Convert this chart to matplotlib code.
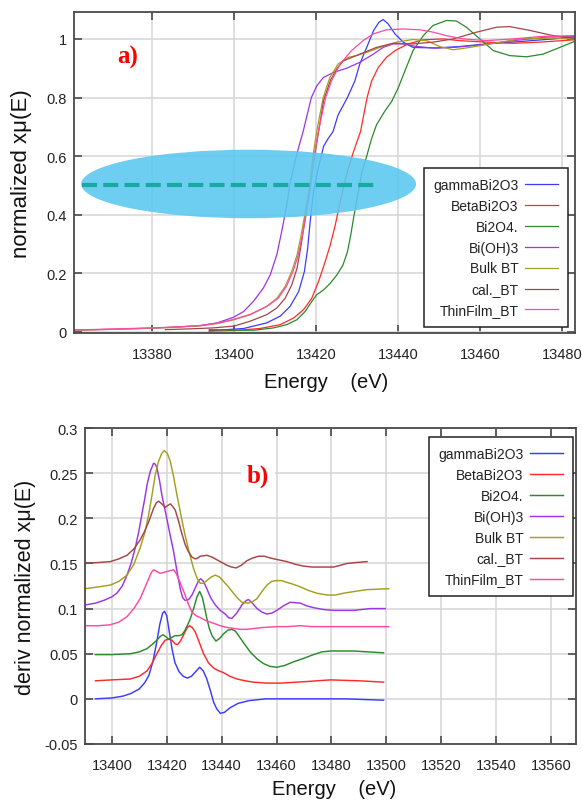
import numpy as np
import matplotlib
matplotlib.use("Agg")
import matplotlib.pyplot as plt
from matplotlib.patches import Ellipse
from matplotlib.ticker import FuncFormatter, MultipleLocator

labels = ["gammaBi2O3", "BetaBi2O3", "Bi2O4.", "Bi(OH)3", "Bulk BT", "cal._BT", "ThinFilm_BT"]
colors = ["#3b3bff", "#ff2a2a", "#2b8a2b", "#9b35e6", "#a3a020", "#a54545", "#ff4aa5"]

# ---- panel a) normalized XANES ----
e_gamma = [13394, 13402.4, 13408, 13411.3, 13413.7, 13415.8, 13417.2, 13418, 13418.6, 13419.4, 13420.7, 13421.9,
           13423, 13424.2, 13425.4, 13427.7, 13429.5, 13430.7, 13432.4, 13434.1, 13435.4, 13436.4, 13437.6,
           13439.3, 13441.3, 13443.7, 13449.4, 13455.1, 13461.6, 13469.8, 13477.9, 13483.2]
mu_gamma = [0.004, 0.012, 0.031, 0.054, 0.087, 0.138, 0.206, 0.285, 0.375, 0.476, 0.566, 0.634,
            0.66, 0.684, 0.74, 0.8, 0.856, 0.914, 0.971, 1.029, 1.057, 1.066, 1.052,
            1.017, 0.989, 0.971, 0.969, 0.974, 0.983, 0.991, 1.0, 1.008]

e_beta = [13394, 13400, 13406.4, 13411.3, 13414.6, 13417, 13419, 13420.65, 13422, 13423.5, 13424.7, 13425.9,
          13427.2, 13428.4, 13429.3, 13430.9, 13432.5, 13433.6, 13435.2, 13437.2, 13439.3, 13442.5, 13446.2,
          13451, 13455.1, 13461.6, 13468.1, 13474.6, 13483.2]
mu_beta = [0.003, 0.005, 0.012, 0.025, 0.048, 0.076, 0.115, 0.172, 0.228, 0.296, 0.363, 0.442,
           0.521, 0.58, 0.62, 0.684, 0.8, 0.856, 0.902, 0.937, 0.96, 0.983, 0.997,
           1.0, 0.994, 0.989, 0.985, 0.989, 0.997]

e_bi2o4 = [13394, 13400, 13405, 13409.7, 13412.9, 13415.4, 13417.4, 13419, 13420.2, 13421.9, 13423.5, 13425.1,
           13426.6, 13427.7, 13428.5, 13429.3, 13430.2, 13431.2, 13432.4, 13433.6, 13434.8, 13436.8, 13438.5,
           13440.1, 13441.7, 13443.7, 13446.2, 13448.6, 13451.9, 13454.3, 13456.7, 13460, 13463.3, 13467.3,
           13471.4, 13475.4, 13479.5, 13483.2]
mu_bi2o4 = [0.008, 0.006, 0.006, 0.014, 0.025, 0.042, 0.07, 0.104, 0.127, 0.144, 0.166, 0.194,
            0.228, 0.273, 0.33, 0.397, 0.465, 0.544, 0.6, 0.66, 0.707, 0.753, 0.787,
            0.833, 0.89, 0.96, 1.011, 1.046, 1.063, 1.061, 1.04, 1.0, 0.96, 0.943,
            0.939, 0.948, 0.971, 0.992]

e_bioh3 = [13361, 13370, 13380, 13386, 13391.8, 13395.9, 13399.9, 13402.4, 13404.8, 13407.2, 13408.9, 13410.5,
           13411.7, 13412.8, 13413.7, 13415, 13416.2, 13416.9, 13418.9, 13420.2, 13421.8, 13424.2, 13427.5,
           13430.7, 13434, 13436.4, 13438.9, 13441.3, 13444.6, 13448.6, 13453.5, 13460, 13468.1, 13476.3,
           13483.2]
mu_bioh3 = [0.006, 0.009, 0.013, 0.017, 0.022, 0.031, 0.05, 0.07, 0.105, 0.15, 0.196, 0.265,
            0.345, 0.425, 0.505, 0.589, 0.65, 0.684, 0.8, 0.839, 0.868, 0.885, 0.9,
            0.92, 0.948, 0.971, 0.983, 0.983, 0.974, 0.969, 0.971, 0.979, 0.994, 1.006,
            1.01]

e_bulk = [13361, 13370, 13380, 13386, 13391.8, 13396, 13400, 13404, 13408, 13410.5, 13412.5, 13414.1,
          13415.4, 13416.4, 13417.4, 13418.5, 13419.3, 13420.2, 13421.8, 13423.4, 13425.4, 13427.9, 13429.9,
          13432.4, 13435.6, 13439.7, 13443.7, 13447, 13450.2, 13453.5, 13457.6, 13463.3, 13469.8, 13477.9,
          13483.2]
mu_bulk = [0.006, 0.009, 0.013, 0.016, 0.021, 0.029, 0.042, 0.059, 0.087, 0.115, 0.155, 0.206,
           0.262, 0.33, 0.408, 0.499, 0.6, 0.684, 0.8, 0.868, 0.914, 0.937, 0.943,
           0.954, 0.971, 0.989, 0.998, 0.994, 0.974, 0.963, 0.971, 0.985, 1.0, 1.003,
           1.0]

e_cal = [13383.3, 13390, 13395, 13400, 13404, 13408, 13410.5, 13412.5, 13414.1, 13415.4, 13416.4, 13417.4,
         13418.5, 13419.4, 13420.4, 13421.9, 13423.6, 13425.2, 13426.7, 13430.7, 13434.8, 13438.9, 13443.7,
         13448.6, 13453.5, 13459.2, 13464.1, 13467.3, 13472.2, 13477.9, 13483.2]
mu_cal = [0.008, 0.011, 0.014, 0.02, 0.037, 0.059, 0.082, 0.115, 0.16, 0.217, 0.296, 0.386,
          0.487, 0.577, 0.66, 0.79, 0.86, 0.9, 0.925, 0.948, 0.971, 0.985, 0.983,
          0.989, 1.0, 1.023, 1.04, 1.042, 1.029, 1.011, 1.003]

e_thin = [13361, 13370, 13380, 13386, 13391.8, 13396, 13400, 13404, 13408, 13410.8, 13412.8, 13414.4,
          13415.7, 13416.7, 13417.7, 13418.8, 13419.6, 13420.6, 13422.4, 13423.8, 13425.9, 13428.7, 13431.5,
          13434, 13437.2, 13441.3, 13445.4, 13448.6, 13451.9, 13455.9, 13461.6, 13468.1, 13474.6, 13483.2]
mu_thin = [0.007, 0.01, 0.014, 0.017, 0.022, 0.03, 0.043, 0.06, 0.087, 0.115, 0.155, 0.206,
           0.262, 0.33, 0.408, 0.499, 0.6, 0.684, 0.8, 0.856, 0.914, 0.96, 0.994,
           1.017, 1.031, 1.034, 1.031, 1.023, 1.011, 1.0, 0.994, 1.0, 1.008, 1.011]

# ---- panel b) derivatives ----
d_e_gamma = [13394, 13400, 13404, 13407, 13410, 13412, 13413.5, 13415, 13416.3, 13417.5, 13418.5, 13419.2,
             13420, 13421, 13422, 13423, 13424.5, 13426, 13427.5, 13429, 13430.5, 13432, 13433.3, 13434.6,
             13436, 13437.1, 13438.2, 13439.5, 13441, 13443, 13446, 13450, 13456, 13470, 13485, 13499]
d_gamma = [0.0, 0.001, 0.003, 0.006, 0.011, 0.018, 0.026, 0.042, 0.062, 0.083, 0.095, 0.097,
           0.092, 0.073, 0.054, 0.04, 0.03, 0.025, 0.023, 0.025, 0.03, 0.035, 0.031, 0.022,
           0.008, -0.004, -0.011, -0.016, -0.015, -0.01, -0.005, -0.002, 0.0, 0.0, 0.0, -0.0015]

d_e_beta = [13394, 13400, 13406.7, 13410, 13412.8, 13414.6, 13416.4, 13418, 13419.4, 13420.7, 13421.9, 13423,
            13423.9, 13425, 13426.3, 13427.5, 13428.3, 13429.3, 13430.4, 13431.8, 13433.4, 13435.2, 13437.1,
            13439, 13440.7, 13443, 13445.6, 13448.5, 13451.6, 13456, 13461.4, 13470, 13479.6, 13490, 13499]
d_beta = [0.02, 0.021, 0.022, 0.025, 0.031, 0.039, 0.05, 0.059, 0.065, 0.066, 0.065, 0.061,
          0.06, 0.064, 0.072, 0.079, 0.081, 0.079, 0.074, 0.063, 0.05, 0.04, 0.034,
          0.031, 0.029, 0.025, 0.022, 0.02, 0.0185, 0.0175, 0.0174, 0.019, 0.021, 0.02, 0.0185]

d_e_bi2o4 = [13394, 13400, 13406.7, 13410, 13412.8, 13415, 13416.4, 13417.6, 13418.6, 13419.6, 13420.7, 13421.8,
             13423, 13424.5, 13425.5, 13426.5, 13427.3, 13428.5, 13429.8, 13431, 13432, 13433, 13434, 13434.6,
             13435.5, 13436.5, 13437.9, 13439.3, 13440.7, 13442.2, 13443.7, 13445, 13446.2, 13448, 13450.4,
             13453, 13455.3, 13457.6, 13460.1, 13463, 13466.2, 13470, 13473.5, 13476.5, 13479.6, 13488, 13499]
d_bi2o4 = [0.049, 0.049, 0.05, 0.052, 0.0556, 0.061, 0.065, 0.069, 0.071, 0.069, 0.066, 0.068,
           0.07, 0.07, 0.071, 0.075, 0.08, 0.088, 0.1, 0.113, 0.119, 0.112, 0.098, 0.089,
           0.078, 0.07, 0.064, 0.067, 0.072, 0.076, 0.077, 0.075, 0.07, 0.062, 0.052,
           0.044, 0.039, 0.036, 0.035, 0.037, 0.041, 0.045, 0.049, 0.052, 0.053, 0.053, 0.051]

d_e_bioh3 = [13390.3, 13394, 13397, 13400, 13401.8, 13403.8, 13405.5, 13407, 13408.5, 13409.8, 13410.9, 13412,
             13412.8, 13414, 13415.2, 13415.8, 13416.4, 13417.3, 13418.2, 13419.1, 13420, 13421.2, 13422.5,
             13423.7, 13424.9, 13425.8, 13426.7, 13428, 13429.2, 13430.7, 13431.6, 13432.4, 13433.4, 13434.6,
             13436, 13437.7, 13439.5, 13441.3, 13442.5, 13443.7, 13445.5, 13447.4, 13449, 13449.8, 13451.2,
             13452.9, 13454.7, 13456.5, 13458.3, 13460.1, 13462.5, 13465, 13468.7, 13471, 13473.5, 13477,
             13480.8, 13488.1, 13494.2, 13499.6]
d_bioh3 = [0.104, 0.106, 0.109, 0.113, 0.117, 0.125, 0.137, 0.15, 0.167, 0.185, 0.204, 0.222,
           0.237, 0.252, 0.261, 0.26, 0.256, 0.243, 0.226, 0.213, 0.2, 0.182, 0.163,
           0.142, 0.122, 0.112, 0.109, 0.11, 0.115, 0.125, 0.131, 0.133, 0.13, 0.122,
           0.112, 0.104, 0.098, 0.094, 0.09, 0.089, 0.095, 0.104, 0.109, 0.11, 0.106,
           0.1, 0.096, 0.094, 0.095, 0.098, 0.103, 0.107, 0.106, 0.103, 0.101, 0.099,
           0.098, 0.098, 0.1, 0.1]

d_e_bulk = [13390.3, 13395, 13399.4, 13402.5, 13405.5, 13408, 13410.3, 13412, 13413.4, 13414.6, 13415.8, 13417,
            13418.2, 13419.1, 13420.2, 13421.3, 13422.5, 13423.7, 13425.2, 13426.7, 13428.2, 13429.8, 13431,
            13432.2, 13433.4, 13434.6, 13436.2, 13437.7, 13439.2, 13440.7, 13442.5, 13444.3, 13446, 13447.4,
            13449.8, 13451.4, 13452.9, 13454.7, 13456.5, 13458.2, 13459.9, 13461.8, 13463.8, 13466, 13468.7,
            13471.7, 13474.7, 13478.4, 13481.4, 13484.4, 13488.5, 13493, 13500.9]
d_bulk = [0.122, 0.124, 0.126, 0.13, 0.137, 0.149, 0.167, 0.184, 0.204, 0.225, 0.248, 0.263,
          0.272, 0.275, 0.272, 0.263, 0.246, 0.226, 0.203, 0.181, 0.162, 0.144, 0.134,
          0.128, 0.128, 0.131, 0.135, 0.137, 0.135, 0.13, 0.124, 0.117, 0.111, 0.107,
          0.106, 0.108, 0.111, 0.119, 0.126, 0.13, 0.131, 0.131, 0.129, 0.127, 0.124,
          0.12, 0.117, 0.115, 0.115, 0.117, 0.119, 0.121, 0.122]

d_e_cal = [13390.3, 13395, 13399.4, 13402.5, 13405.5, 13408, 13410.3, 13412, 13413.4, 13415.2, 13416.2, 13417,
           13418.2, 13419.4, 13420.3, 13421.3, 13422.2, 13423.1, 13424.3, 13425.5, 13426.7, 13427.9, 13429.2,
           13430.4, 13431.3, 13432.2, 13434.6, 13436.5, 13438.3, 13440.1, 13441.9, 13443.6, 13445.3, 13447.2,
           13449.2, 13451.3, 13453.5, 13455.6, 13457.7, 13460.7, 13463.8, 13466.9, 13469.9, 13473, 13476,
           13480.8, 13483.3, 13485.7, 13489, 13493]
d_cal = [0.15, 0.151, 0.152, 0.155, 0.159, 0.166, 0.176, 0.186, 0.196, 0.211, 0.217, 0.219,
         0.216, 0.212, 0.214, 0.216, 0.213, 0.209, 0.197, 0.183, 0.171, 0.163, 0.157,
         0.155, 0.156, 0.158, 0.159, 0.157, 0.154, 0.151, 0.148, 0.146, 0.145, 0.148,
         0.153, 0.156, 0.158, 0.158, 0.156, 0.154, 0.152, 0.149, 0.147, 0.146, 0.146,
         0.146, 0.148, 0.15, 0.151, 0.152]

d_e_thin = [13390.3, 13395, 13399.4, 13402.5, 13405.5, 13408, 13410.3, 13412, 13413.4, 13414.4, 13415.2, 13416.4,
            13417.6, 13418.8, 13420, 13421.2, 13422.5, 13423.4, 13424.3, 13425.5, 13426.7, 13428, 13429.2,
            13430.7, 13432.2, 13434, 13435.8, 13437.7, 13439.5, 13442, 13444.3, 13446.8, 13449.2, 13452,
            13455, 13460.1, 13464, 13468.7, 13473, 13478.4, 13484, 13490.5, 13495, 13500.9]
d_thin = [0.081, 0.081, 0.082, 0.085, 0.091, 0.1, 0.111, 0.123, 0.133, 0.14, 0.143, 0.141,
          0.139, 0.14, 0.141, 0.142, 0.143, 0.139, 0.133, 0.124, 0.115, 0.104, 0.096,
          0.092, 0.09, 0.087, 0.085, 0.083, 0.081, 0.079, 0.078, 0.077, 0.077, 0.078,
          0.079, 0.08, 0.08, 0.081, 0.08, 0.08, 0.08, 0.08, 0.08, 0.08]

top_series = [(e_gamma, mu_gamma), (e_beta, mu_beta), (e_bi2o4, mu_bi2o4), (e_bioh3, mu_bioh3),
              (e_bulk, mu_bulk), (e_cal, mu_cal), (e_thin, mu_thin)]
bot_series = [(d_e_gamma, d_gamma), (d_e_beta, d_beta), (d_e_bi2o4, d_bi2o4), (d_e_bioh3, d_bioh3),
              (d_e_bulk, d_bulk), (d_e_cal, d_cal), (d_e_thin, d_thin)]

# highlight on panel a)
ell_center = (13403.6, 0.505)
ell_w, ell_h = 81.7, 0.234
dash_x = [13363, 13434.5]
dash_y = [0.503, 0.503]

FONT = "Liberation Sans"
SPINE = "#4a4a4a"
GRID = "#d6d6d6"

fig = plt.figure(figsize=(5.82, 8.04), dpi=100)
ax1 = fig.add_axes([0.1271, 0.5846, 0.8608, 0.3993])
ax2 = fig.add_axes([0.1460, 0.0734, 0.8436, 0.3930])


def style(ax):
    ax.grid(True, color=GRID, lw=1.1, zorder=0)
    ax.set_axisbelow(True)
    for s in ax.spines.values():
        s.set_color(SPINE)
        s.set_linewidth(1.3)
    ax.tick_params(direction="in", length=5.5, width=1.2, color=SPINE, top=True, right=True,
                   labelsize=10.5, labelcolor="#222222")
    ax.tick_params(axis="x", pad=10)
    ax.tick_params(axis="y", pad=5)
    for t in ax.get_xticklabels() + ax.get_yticklabels():
        t.set_family(FONT)


fmt = FuncFormatter(lambda v, p: "{:g}".format(round(v, 3)))

for (x, y), c, lab in zip(top_series, colors, labels):
    ax1.plot(x, y, color=c, lw=0.9, label=lab, zorder=2)
ax1.add_patch(Ellipse(ell_center, ell_w, ell_h, facecolor="#5ac8f0", edgecolor="none", alpha=0.88, zorder=3))
ax1.plot(dash_x, dash_y, color="#16aaa3", lw=3, dashes=(3.6, 1.5), zorder=4)
ax1.set_xlim(13361, 13483.2)
ax1.set_ylim(-0.0034, 1.092)
ax1.xaxis.set_major_locator(MultipleLocator(20))
ax1.yaxis.set_major_locator(MultipleLocator(0.2))
ax1.yaxis.set_major_formatter(fmt)
style(ax1)
ax1.text(13371.5, 0.94, "a)", color="red", fontsize=18, fontweight="bold", family="Liberation Serif",
         va="center", ha="left", zorder=5)

for (x, y), c, lab in zip(bot_series, colors, labels):
    ax2.plot(x, y, color=c, lw=1.05, label=lab, zorder=2)
ax2.set_xlim(13390.2, 13569.1)
ax2.set_ylim(-0.05, 0.3)
ax2.xaxis.set_major_locator(MultipleLocator(20))
ax2.yaxis.set_major_locator(MultipleLocator(0.05))
ax2.yaxis.set_major_formatter(fmt)
style(ax2)
ax2.text(13449.2, 0.248, "b)", color="red", fontsize=18, fontweight="bold", family="Liberation Serif",
         va="center", ha="left", zorder=5,
         bbox=dict(facecolor="white", edgecolor="none", pad=4))

for ax, anchor in [(ax1, (0.986, 0.514)), (ax2, (0.994, 0.9715))]:
    leg = ax.legend(loc="upper right", bbox_to_anchor=anchor, markerfirst=False, fancybox=False,
                    framealpha=1, edgecolor="#222222", handlelength=2.4, handletextpad=0.45,
                    labelspacing=0.5, borderpad=0.7, borderaxespad=0,
                    prop={"family": FONT, "size": 10})
    leg.get_frame().set_linewidth(1.1)
    leg.set_zorder(6)
    for t in leg.get_texts():
        t.set_color("#222222")

fig.text(326 / 582, 1 - 383 / 804, "Energy    (eV)", family=FONT, fontsize=14.5, ha="center", va="center",
         color="#111111")
fig.text(334 / 582, 1 - 790 / 804, "Energy    (eV)", family=FONT, fontsize=14.5, ha="center", va="center",
         color="#111111")
fig.text(22 / 582, 1 - 174 / 804, "normalized xμ(E)", family=FONT, fontsize=16, rotation=90,
         ha="center", va="center", color="#111111")
fig.text(26 / 582, 1 - 587 / 804, "deriv normalized xμ(E)", family=FONT, fontsize=15.5,
         rotation=90, ha="center", va="center", color="#111111")

fig.savefig("out.png", dpi=100)
